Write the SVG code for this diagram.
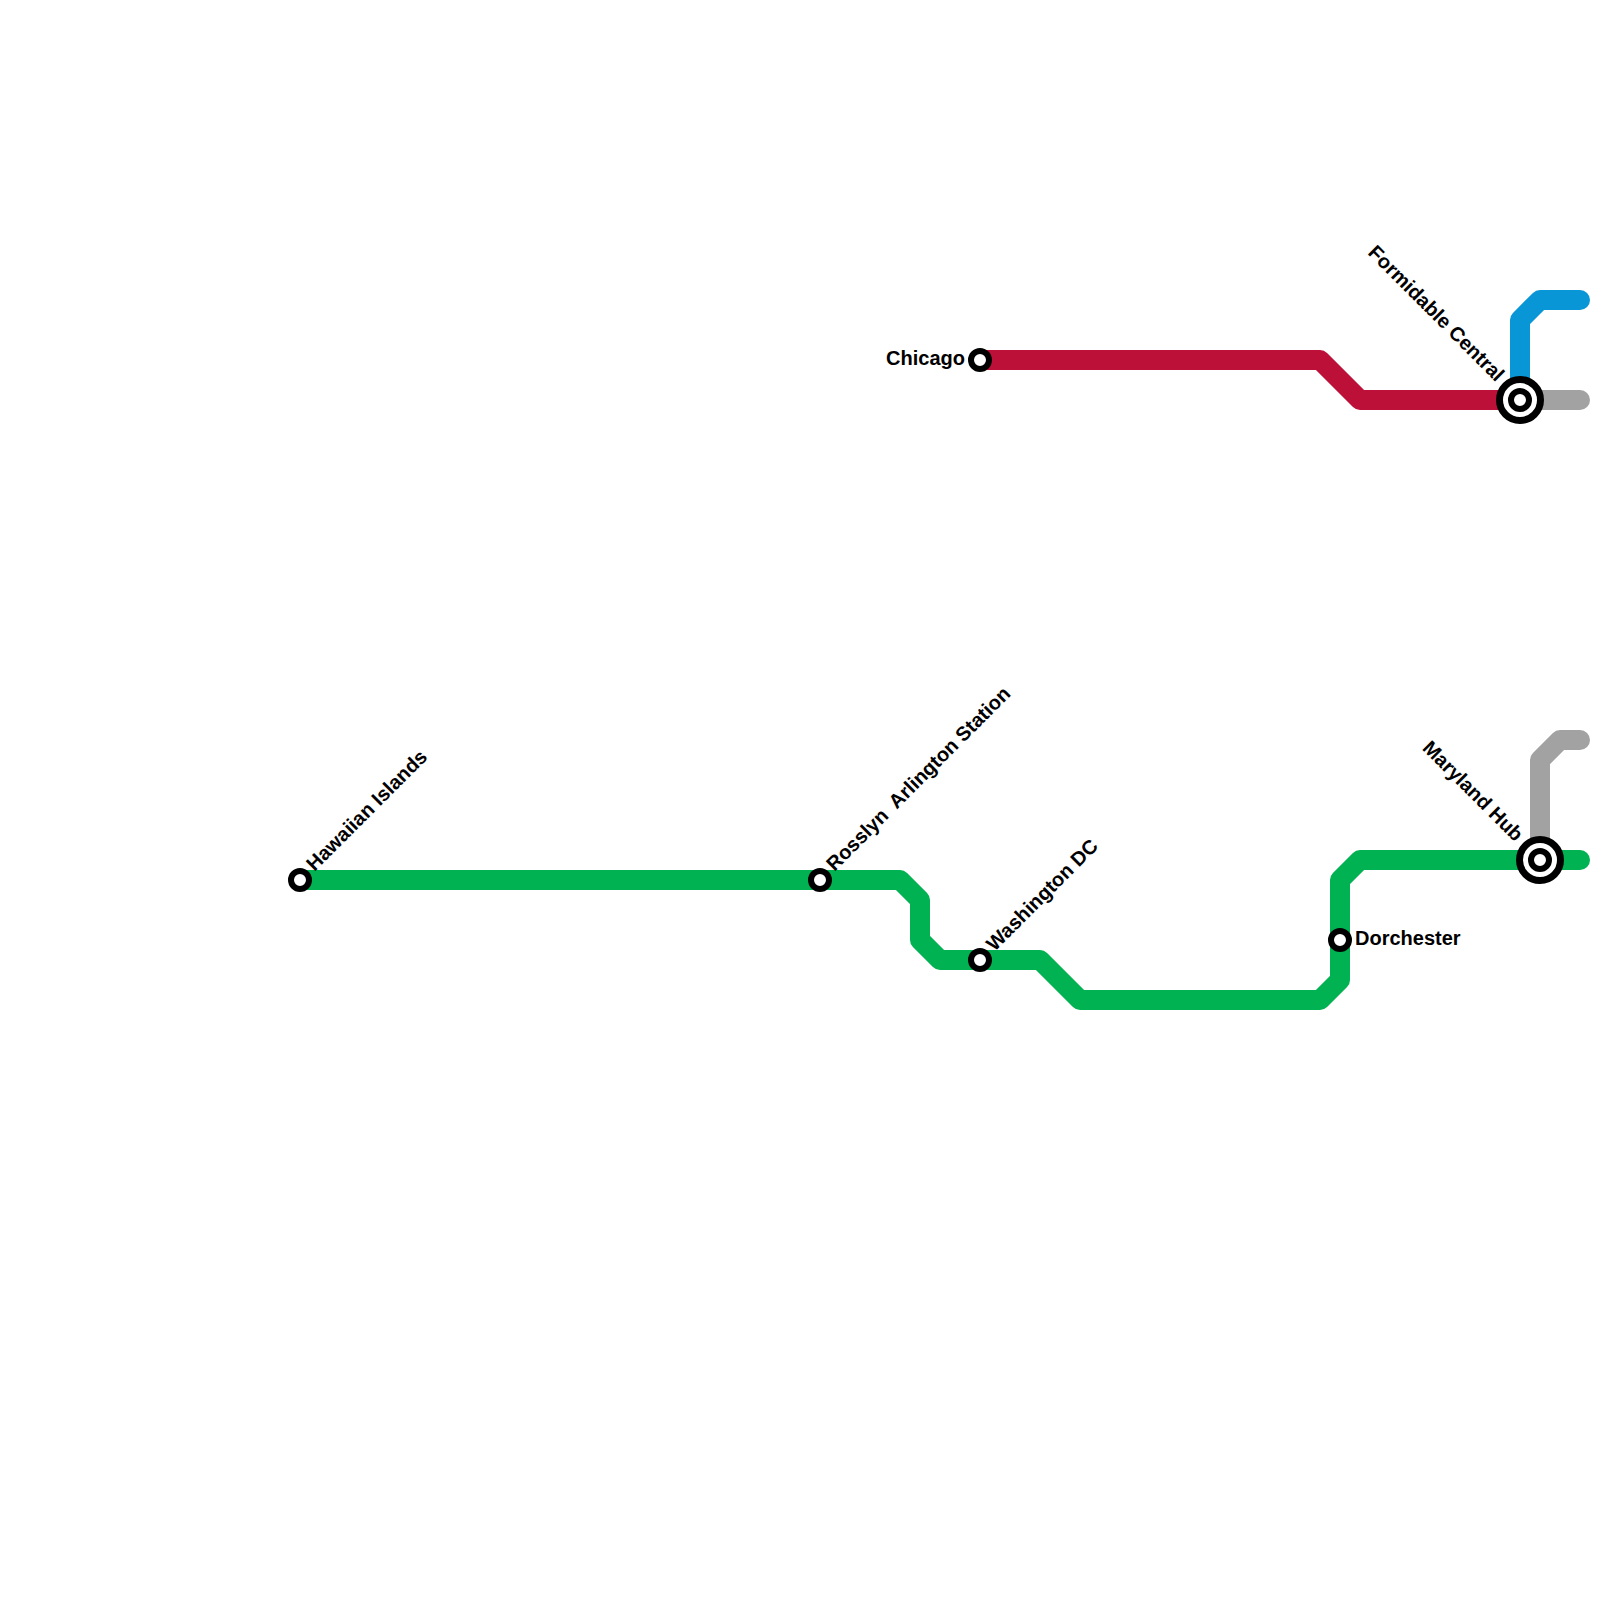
<svg xmlns="http://www.w3.org/2000/svg" width="1600" height="1600" viewBox="0 0 1600 1600">
<style>
.line{fill:none;stroke-width:20;stroke-linecap:round;stroke-linejoin:round}
.g{stroke:#00b251}.r{stroke:#bd1038}.b{stroke:#0896d7}.a{stroke:#a2a2a2}
.st{fill:#fff;stroke:#000;stroke-width:6}
.ring{fill:#fff;stroke:#000;stroke-width:7}
text{font-family:"Liberation Sans",Arial,sans-serif;font-size:20px;font-weight:bold;fill:#000}
</style>
<rect width="1600" height="1600" fill="#fff"/>
<g id="connectors">
<path class="line a" d="M1520 400H1580"/>
<path class="line a" d="M1540 860V760L1560 740H1580"/>
<path class="line b" d="M1520 400V320L1540 300H1580"/>
<path class="line r" d="M980 360H1320L1360 400H1520"/>
<path class="line g" d="M300 880H900L920 900V940L940 960H1040L1080 1000H1320L1340 980V880L1360 860H1580"/>
</g>
<g id="hawaiian-islands"><circle class="st" cx="300" cy="880" r="9"/><text transform="translate(314.5 872) rotate(-45)">Hawaiian Islands</text></g>
<g id="rosslyn"><circle class="st" cx="820" cy="880" r="9"/><text transform="translate(834.5 872) rotate(-45)" xml:space="preserve">Rosslyn  Arlington Station</text></g>
<g id="washington-dc"><circle class="st" cx="980" cy="960" r="9"/><text transform="translate(994.5 952) rotate(-45)">Washington DC</text></g>
<g id="dorchester"><circle class="st" cx="1340" cy="940" r="9"/><text x="1355" y="945">Dorchester</text></g>
<g id="chicago"><circle class="st" cx="980" cy="360" r="9"/><text x="965" y="365" text-anchor="end">Chicago</text></g>
<g id="formidable-central"><circle class="ring" cx="1520" cy="400" r="20.5"/><circle class="st" cx="1520" cy="400" r="9"/><text transform="translate(1496 382.5) rotate(45)" text-anchor="end">Formidable Central</text></g>
<g id="maryland-hub"><circle class="ring" cx="1540" cy="860" r="20.5"/><circle class="st" cx="1540" cy="860" r="9"/><text transform="translate(1515 842.5) rotate(45)" text-anchor="end">Maryland Hub</text></g>
</svg>
